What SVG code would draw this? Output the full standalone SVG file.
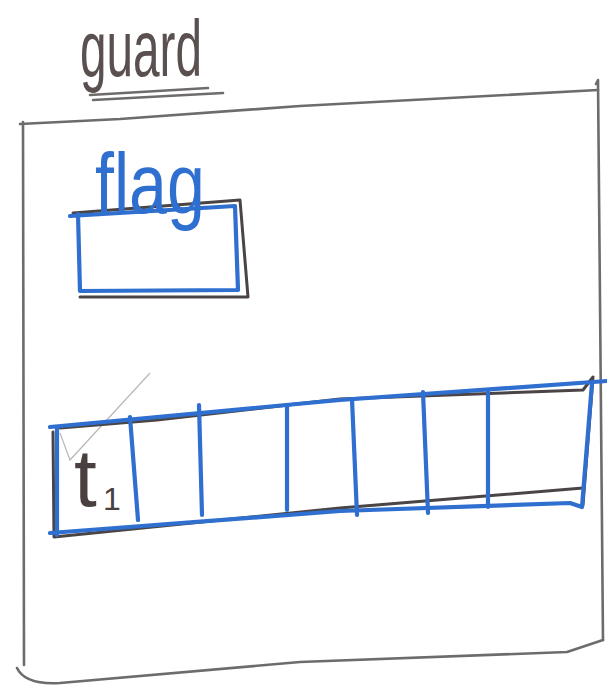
<svg xmlns="http://www.w3.org/2000/svg" width="607" height="688" viewBox="0 0 607 688">
<style>
.gray{fill:none;stroke:#6e6b6b;stroke-width:2.6;stroke-linecap:round;stroke-linejoin:round}
.dark{fill:none;stroke:#4a4444;stroke-width:3;stroke-linecap:round;stroke-linejoin:round}
.blue{fill:none;stroke:#2f6fcf;stroke-width:4.2;stroke-linecap:round;stroke-linejoin:round}
.faint{fill:none;stroke:#b8b8b8;stroke-width:1.2}
.hand{font-family:"Liberation Sans","DejaVu Sans",sans-serif}
</style>
<rect width="607" height="688" fill="#ffffff"/>
<g id="guard">
  <path class="gray" d="M20,124 L120,119 L300,106 L598,90"/>
  <path class="gray" d="M596,84 L598,80 L600,300 L603,640"/>
  <path class="gray" d="M603,640 L567,652 L300,662 L60,683 Q25,685 17,668"/>
  <path class="gray" d="M23,122 L24,665"/>
  <text class="hand" x="80" y="76" font-size="80" textLength="122" lengthAdjust="spacingAndGlyphs" fill="#5a5050">guard</text>
  <path class="gray" d="M90,95 L208,88"/>
  <path class="gray" d="M93,100 L223,93"/>
</g>
<g id="flag">
  <path class="dark" d="M73,213 L240,200 L248,297 L80,297"/>
  <path class="blue" d="M70,216 L235,206 L238,290 L80,291 L78,214"/>
  <text class="hand" x="95" y="213" font-size="86" textLength="110" lengthAdjust="spacingAndGlyphs" fill="#2f6fcf">flag</text>
</g>
<g id="array">
  <path class="faint" d="M60,433 L70,460 L150,373"/>
  <path class="dark" d="M60,428 L157,420 L340,399 L583,390 L593,377 L583,505"/>
  <path class="dark" d="M53,432 L54,537 L340,508 L583,488"/>
  <path class="blue" d="M50,427 L340,400 L607,381"/>
  <path class="blue" d="M57,427 L57,535"/>
  <path class="blue" d="M50,533 L340,511 L570,503 L582,507 L592,383"/>
  <path class="blue" d="M130,417 L138,520"/>
  <path class="blue" d="M199,405 L202,515"/>
  <path class="blue" d="M287,405 L287,510"/>
  <path class="blue" d="M352,399 L357,515"/>
  <path class="blue" d="M423,392 L428,513"/>
  <path class="blue" d="M488,390 L488,507"/>
  <text class="hand" x="74" y="506" font-size="82" fill="#4a4040">t</text>
  <text class="hand" x="103" y="510" font-size="32" fill="#4a4040">1</text>
</g>
<g id="connectors"/>
</svg>
